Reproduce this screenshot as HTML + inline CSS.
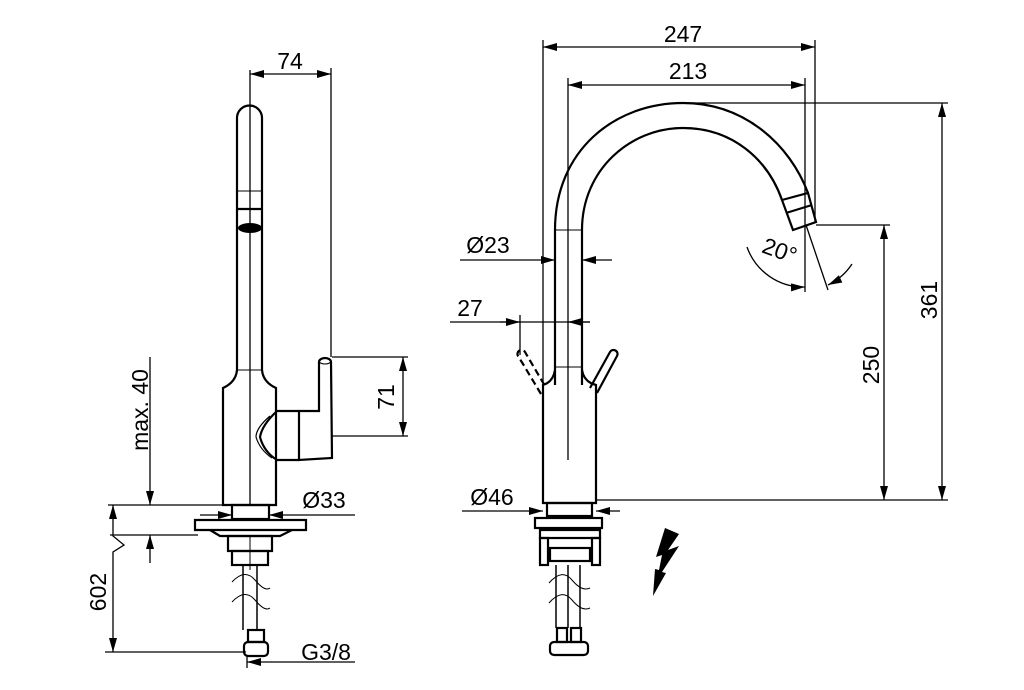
<!DOCTYPE html>
<html><head><style>html,body{margin:0;padding:0;background:#fff}svg{display:block}</style></head>
<body>
<svg width="1024" height="690" viewBox="0 0 1024 690" xmlns="http://www.w3.org/2000/svg" font-family="Liberation Sans, Arial, sans-serif">
<defs>
<marker id="a" viewBox="0 0 14 8" refX="14" refY="4" markerWidth="15" markerHeight="8" markerUnits="userSpaceOnUse" orient="auto-start-reverse"><path d="M0,0 L14,4 L0,8Z" fill="#000"/></marker>
</defs>
<g fill="none" stroke="#000" stroke-width="1.3">
<!-- LEFT dims -->
<line x1="250" y1="70" x2="250" y2="505"/>
<line x1="331" y1="68" x2="331" y2="357"/>
<line x1="250" y1="74" x2="331" y2="74" marker-start="url(#a)" marker-end="url(#a)"/>
<line x1="332" y1="357" x2="408" y2="357"/>
<line x1="332" y1="436" x2="408" y2="436"/>
<line x1="403" y1="357" x2="403" y2="436" marker-start="url(#a)" marker-end="url(#a)"/>
<line x1="150" y1="357" x2="150" y2="505" marker-end="url(#a)"/>
<line x1="150" y1="563" x2="150" y2="535" marker-end="url(#a)"/>
<line x1="108" y1="505" x2="222" y2="505"/>
<line x1="110" y1="535" x2="198" y2="535"/>
<polyline points="113,505 113,536 124,545 113,552 113,652" marker-start="url(#a)" marker-end="url(#a)"/>
<line x1="105" y1="652" x2="246" y2="652"/>
<line x1="200" y1="515" x2="232" y2="515" marker-end="url(#a)"/>
<line x1="355" y1="515" x2="269" y2="515" marker-end="url(#a)"/>
<line x1="355" y1="662" x2="247" y2="662" marker-end="url(#a)"/>
<line x1="247" y1="655" x2="247" y2="668"/>
</g>
<g fill="none" stroke="#000" stroke-width="2.2">
<!-- LEFT faucet -->
<path d="M237,370 L237,118 A12.5,12.5 0 0 1 262,118 L262,370 Q263,382 276,388 L276,505 L223,505 L223,388 Q236,382 237,370Z"/>
<line x1="237" y1="191" x2="262" y2="191" stroke-width="1"/>
<line x1="237" y1="209" x2="262" y2="209"/>
<line x1="237" y1="370" x2="262" y2="370" stroke-width="1"/>
<path d="M276,411 L319,411 L319,362 A6,4 0 0 1 331,362 L332,458 L299,460 L299,411"/>
<path d="M277,411 Q262,425 260,437 Q264,452 277,460 L299,460"/>
<path d="M270,416 Q256,428 256,437 Q260,450 272,458" stroke-width="1.2"/>
<ellipse cx="325" cy="361" rx="6" ry="3" stroke-width="1"/>
<rect x="232" y="505" width="37" height="14"/>
<path d="M195,520 L306,520 L306,530 L195,530Z"/>
<path d="M210,530 L220,536 L280,536 L292,530"/>
<rect x="228" y="536" width="44" height="15"/>
<rect x="232" y="551" width="36" height="14"/>
<line x1="250" y1="536" x2="250" y2="570" stroke-width="1"/>
<line x1="243" y1="565" x2="243" y2="630" stroke-width="1.5"/>
<line x1="257" y1="565" x2="257" y2="630" stroke-width="1.5"/>
<path d="M232,582 Q245,568 255,580 T270,588" stroke-width="1"/>
<path d="M232,602 Q245,588 255,600 T270,608" stroke-width="1"/>
<rect x="248" y="630" width="16" height="12"/>
<rect x="244" y="642" width="24" height="14" rx="4"/>
</g>
<ellipse cx="250" cy="228" rx="12" ry="5" fill="#000"/>

<!-- RIGHT dims -->
<g fill="none" stroke="#000" stroke-width="1.3">
<line x1="543" y1="40" x2="543" y2="385"/>
<line x1="815" y1="40" x2="815" y2="222"/>
<line x1="543" y1="47" x2="815" y2="47" marker-start="url(#a)" marker-end="url(#a)"/>
<line x1="568" y1="78" x2="568" y2="460"/>
<line x1="805" y1="78" x2="805" y2="292"/>
<line x1="568" y1="85" x2="805" y2="85" marker-start="url(#a)" marker-end="url(#a)"/>
<line x1="683" y1="103" x2="948" y2="103"/>
<line x1="596" y1="500" x2="948" y2="500"/>
<line x1="942" y1="103" x2="942" y2="500" marker-start="url(#a)" marker-end="url(#a)"/>
<line x1="816" y1="225" x2="890" y2="225"/>
<line x1="884" y1="225" x2="884" y2="500" marker-start="url(#a)" marker-end="url(#a)"/>
<line x1="460" y1="260" x2="555" y2="260" marker-end="url(#a)"/>
<line x1="612" y1="260" x2="582" y2="260" marker-end="url(#a)"/>
<line x1="450" y1="322" x2="520" y2="322"/>
<line x1="520" y1="315" x2="520" y2="355"/>
<line x1="520" y1="322" x2="590" y2="322"/>
<line x1="500" y1="322" x2="520" y2="322" marker-end="url(#a)"/>
<line x1="590" y1="322" x2="568" y2="322" marker-end="url(#a)"/>
<line x1="462" y1="511" x2="543" y2="511" marker-end="url(#a)"/>
<line x1="620" y1="511" x2="596" y2="511" marker-end="url(#a)"/>
<line x1="806" y1="225" x2="828" y2="290"/>
<path d="M747,247 A60,60 0 0 0 805,287" marker-end="url(#a)"/>
<path d="M852,264 A60,60 0 0 1 828,285" marker-end="url(#a)"/>
</g>
<g fill="none" stroke="#000" stroke-width="2.2">
<path d="M555,385 L555,230 C555,150 615,103 683,103 C745,103 790,145 808,193"/>
<path d="M582,385 L582,230 C582,170 630,128 683,128 C733,128 768,160 782,200"/>
<path d="M782,200 L808,193 L816,222 L793,230Z"/>
<line x1="786" y1="213" x2="812" y2="205"/>
<line x1="555" y1="230" x2="582" y2="230" stroke-width="1"/>
<line x1="555" y1="367" x2="582" y2="367" stroke-width="1"/>
<path d="M555,370 Q553,382 543,385 L543,503 L596,503 L596,385 Q584,382 582,370"/>
<path d="M590,388 L610,352 A4,4 0 0 1 617,356 L597,393"/>
<path d="M541,394 L523,364 L518,356 A4,4 0 0 1 525,352 L545,386" stroke-dasharray="7,4"/>
<rect x="547" y="503" width="45" height="13"/>
<rect x="535" y="518" width="67" height="10"/>
<rect x="540" y="530" width="60" height="8"/>
<rect x="540" y="538" width="8" height="27"/>
<rect x="592" y="538" width="8" height="27"/>
<rect x="550" y="548" width="40" height="13"/>
<line x1="556" y1="565" x2="556" y2="628" stroke-width="1.5"/>
<line x1="568" y1="565" x2="568" y2="628" stroke-width="1.5"/>
<line x1="580" y1="565" x2="580" y2="628" stroke-width="1.5"/>
<path d="M549,583 Q562,568 572,580 T590,588" stroke-width="1"/>
<path d="M549,603 Q562,588 572,600 T590,608" stroke-width="1"/>
<rect x="557" y="628" width="10" height="14"/>
<rect x="571" y="628" width="10" height="14"/>
<rect x="550" y="642" width="38" height="13" rx="4"/>
</g>
<path d="M665,528 L679,534 L668,550 L679,546 L662,572 L666,573 L653,596 L655,569 L659,570 L662,555 L656,557Z" fill="#000"/>

<g font-size="23" fill="#000">
<text x="290" y="69" text-anchor="middle">74</text>
<text x="324" y="508" text-anchor="middle">Ø33</text>
<text x="326" y="660" text-anchor="middle">G3/8</text>
<text transform="translate(394,397) rotate(-90)" text-anchor="middle">71</text>
<text transform="translate(148,410) rotate(-90)" text-anchor="middle">max. 40</text>
<text transform="translate(106,592) rotate(-90)" text-anchor="middle">602</text>
<text x="683" y="42" text-anchor="middle">247</text>
<text x="688" y="79" text-anchor="middle">213</text>
<text x="488" y="253" text-anchor="middle">Ø23</text>
<text x="470" y="316" text-anchor="middle">27</text>
<text x="492" y="505" text-anchor="middle">Ø46</text>
<text transform="translate(879,365) rotate(-90)" text-anchor="middle">250</text>
<text transform="translate(937,300) rotate(-90)" text-anchor="middle">361</text>
<text transform="translate(777,258) rotate(20)" text-anchor="middle">20°</text>
</g>
</svg>
</body></html>
